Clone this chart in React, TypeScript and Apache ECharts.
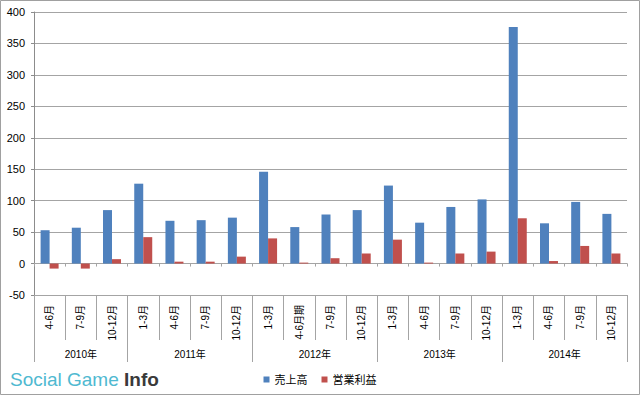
import React, { useEffect, useRef } from "react";
import * as echarts from "echarts";

const categories = ["4-6月", "7-9月", "10-12月", "1-3月", "4-6月", "7-9月", "10-12月", "1-3月", "4-6月期", "7-9月", "10-12月", "1-3月", "4-6月", "7-9月", "10-12月", "1-3月", "4-6月", "7-9月", "10-12月"];
const sales = [53, 57, 85, 127, 68, 69, 73, 146, 58, 78, 85, 124, 65, 90, 102, 376, 64, 98, 79];
const profit = [-8, -8, 7, 42, 3, 3, 11, 40, 1.5, 8.5, 16, 38, 1.5, 16, 19, 72, 4, 28, 16];
const years = ["2010年", "2011年", "2012年", "2013年", "2014年"];
const yearQuarters = [3, 4, 4, 4, 4];
const seriesNames = ["売上高", "営業利益"];
const yTicks = { min: -50, max: 400, interval: 50 };

const FONT = "Arial, 'Liberation Sans', 'Noto Sans CJK JP', sans-serif";

export default function App() {
  const ref = useRef<HTMLDivElement>(null);
  useEffect(() => {
    if (!ref.current) return;
    const chart = echarts.init(ref.current, undefined, { renderer: "svg" });
    const bounds: number[] = [0];
    yearQuarters.forEach((n) => bounds.push(bounds[bounds.length - 1] + n));
    const centers: number[] = [];
    for (let i = 0; i < years.length; i++) centers.push((bounds[i] + bounds[i + 1]) / 2);
    const grid = "#a4a4a4";
    chart.setOption({
      animation: false,
      backgroundColor: "#fff",
      textStyle: { fontFamily: FONT },
      grid: { left: 34, right: 13, top: 12, bottom: 100, containLabel: false },
      legend: {
        data: seriesNames,
        left: "center",
        top: 369,
        icon: "rect",
        itemWidth: 6,
        itemHeight: 6,
        itemGap: 14,
        textStyle: { fontSize: 11, color: "#000", fontFamily: FONT },
      },
      xAxis: [
        {
          type: "category",
          data: categories,
          position: "bottom",
          boundaryGap: true,
          axisLine: { show: true, onZero: false, lineStyle: { color: grid } },
          axisTick: { show: true, interval: 0, length: 45, lineStyle: { color: grid } },
          axisLabel: { interval: 0, rotate: 90, margin: 10, fontSize: 10, color: "#000", fontFamily: FONT },
          splitLine: { show: false },
        },
        {
          type: "category",
          data: categories,
          position: "bottom",
          boundaryGap: true,
          axisLine: { show: true, onZero: true, lineStyle: { color: grid } },
          axisTick: { show: true, interval: 0, length: 3, lineStyle: { color: grid } },
          axisLabel: { show: false },
          splitLine: { show: false },
        },
        {
          type: "value",
          min: 0,
          max: categories.length,
          position: "bottom",
          axisLine: { show: false, onZero: false },
          axisTick: { show: true, customValues: bounds, length: 67, lineStyle: { color: grid } },
          axisLabel: {
            show: true,
            customValues: centers,
            margin: 54,
            fontSize: 10,
            color: "#000",
            fontFamily: FONT,
            formatter: (v: number) => {
              const i = centers.findIndex((c) => Math.abs(c - v) < 1e-6);
              return i >= 0 ? years[i] : "";
            },
          },
          splitLine: { show: false },
        },
      ],
      yAxis: {
        type: "value",
        min: yTicks.min,
        max: yTicks.max,
        interval: yTicks.interval,
        axisLine: { show: true, onZero: false, lineStyle: { color: "#8c8c8c" } },
        axisTick: { show: true, length: 3, lineStyle: { color: "#8c8c8c" } },
        axisLabel: { fontSize: 11, color: "#000", margin: 9, fontFamily: FONT },
        splitLine: { show: true, lineStyle: { color: grid, width: 1 } },
      },
      series: [
        {
          name: seriesNames[0],
          type: "bar",
          xAxisIndex: 0,
          data: sales,
          barWidth: 9,
          barGap: "0%",
          itemStyle: { color: "#4f81bd" },
        },
        {
          name: seriesNames[1],
          type: "bar",
          xAxisIndex: 0,
          data: profit,
          barWidth: 9,
          barGap: "0%",
          itemStyle: { color: "#c0504d" },
        },
      ],
      graphic: [
        {
          type: "rect",
          shape: { x: 0.5, y: 0.5, width: 639, height: 394 },
          style: { fill: "none", stroke: "#a0a0a0", lineWidth: 1 },
          silent: true,
        },
        {
          type: "text",
          x: 10,
          y: 370,
          style: {
            text: "{a|Social Game }{b|Info}",
            verticalAlign: "top",
            rich: {
              a: { fontSize: 19, fill: "#4fb9d1", fontFamily: "'Liberation Sans', Arial, sans-serif", fontWeight: "normal" },
              b: { fontSize: 19, fill: "#3a3a3a", fontFamily: "'Liberation Sans', Arial, sans-serif", fontWeight: "bold" },
            },
          },
        },
      ],
    });
    return () => chart.dispose();
  }, []);
  return (
    <div
      ref={ref}
      style={{ position: "fixed", left: 0, top: 0, width: 640, height: 395, background: "#fff" }}
    />
  );
}
